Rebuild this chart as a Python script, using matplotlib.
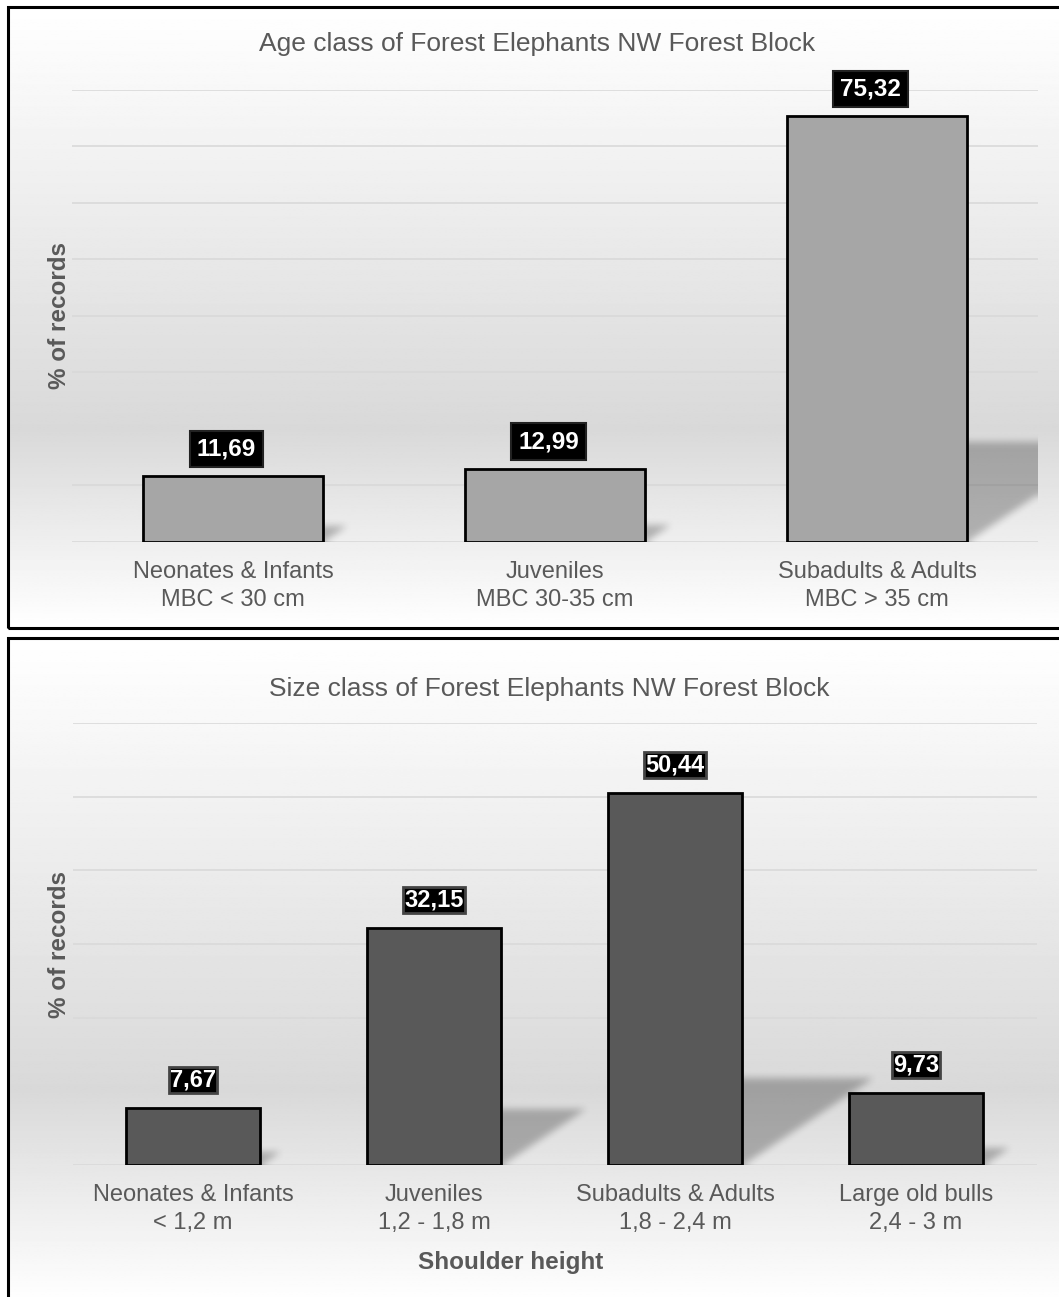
import matplotlib
matplotlib.use("Agg")
import matplotlib.pyplot as plt
import numpy as np
from matplotlib.patches import Rectangle

plt.rcParams['font.family'] = ['Liberation Sans', 'DejaVu Sans']

# ---------------- data ----------------
age_title = "Age class of Forest Elephants NW Forest Block"
age_categories = ["Neonates & Infants\nMBC < 30 cm", "Juveniles\nMBC 30-35 cm", "Subadults & Adults\nMBC > 35 cm"]
age_values = [11.69, 12.99, 75.32]
age_ymax = 80

size_title = "Size class of Forest Elephants NW Forest Block"
size_categories = ["Neonates & Infants\n< 1,2 m", "Juveniles\n1,2 - 1,8 m", "Subadults & Adults\n1,8 - 2,4 m", "Large old bulls\n2,4 - 3 m"]
size_values = [7.67, 32.15, 50.44, 9.73]
size_ymax = 60

y_label = "% of records"
x_label_bottom = "Shoulder height"

# ---------------- figure ----------------
W, H = 1059, 1297
fig = plt.figure(figsize=(W / 100, H / 100), dpi=100)
fig.patch.set_facecolor('white')

TEXT = '#595959'
GRID = '#d9d9d9'


def fx(px):
    return px / W


def fy(py):
    return 1 - py / H


def panel_background(top_px, bottom_px):
    x0, x1 = 8, W + 10
    bg = fig.add_axes([fx(x0), fy(bottom_px), fx(x1 - x0), (bottom_px - top_px) / H], zorder=0)
    t = np.linspace(0, 1, 400)
    g = np.interp(t, [0, 0.68, 1.0], [1.0, 0.85, 1.0])
    img = np.repeat(g[:, None], 2, axis=1)
    bg.imshow(img, cmap='gray', vmin=0, vmax=1, aspect='auto', extent=[0, 1, 0, 1], origin='upper')
    bg.set_axis_off()
    fig.patches.append(Rectangle((fx(x0), fy(bottom_px)), fx(x1 - x0), (bottom_px - top_px) / H,
                                 transform=fig.transFigure, fill=False, edgecolor='black',
                                 linewidth=2.2, zorder=5))


def fmt(v):
    return f"{v:.2f}".replace('.', ',')


def box_blur(a, r, axis):
    pad = [(0, 0), (0, 0)]
    pad[axis] = (r + 1, r)
    c = np.cumsum(np.pad(a, pad, mode='edge'), axis=axis)
    n = a.shape[axis]
    hi = np.take(c, np.arange(2 * r + 1, 2 * r + 1 + n), axis=axis)
    lo = np.take(c, np.arange(0, n), axis=axis)
    return (hi - lo) / (2 * r + 1)


def shadow_layer(ax, xs, vals, width, wpx, hpx, n, ymax):
    ppx = wpx / n
    ppy = hpx / ymax
    cols = np.arange(wpx)[None, :] + 0.5
    ys = (hpx - np.arange(hpx) - 0.5)[:, None]
    alpha = np.zeros((hpx, wpx))
    for x, v in zip(xs, vals):
        xr = (x + width / 2 + 0.5) * ppx
        sh = 0.235 * v * ppy
        sw = 1.5 * sh
        m = (cols >= xr - 8) & (ys <= sh) & (ys >= (cols - xr) * sh / sw)
        alpha = np.maximum(alpha, m.astype(float))
    for _ in range(3):
        alpha = box_blur(alpha, 3, 0)
        alpha = box_blur(alpha, 3, 1)
    rgba = np.zeros((hpx, wpx, 4))
    rgba[..., 3] = alpha * 0.26
    ax.imshow(rgba, extent=(-0.5, n - 0.5, 0, ymax), aspect='auto', origin='upper',
              interpolation='bilinear', zorder=1.5)


def draw_chart(rect_px, cats, vals, ymax, color, title, title_pad, title_x, label_style):
    l, t, r, b = rect_px
    ax = fig.add_axes([fx(l), fy(b), fx(r - l), (b - t) / H], zorder=2)
    ax.patch.set_visible(False)
    n = len(cats)
    xs = np.arange(n)
    width = 0.56

    shadow_layer(ax, xs, vals, width, int(round(r - l)), int(round(b - t)), n, ymax)

    ax.set_xlim(-0.5, n - 0.5)
    ax.set_ylim(0, ymax)
    ax.set_yticks(np.arange(0, ymax + 1, 10))
    ax.yaxis.grid(True, color=GRID, linewidth=1.2)
    ax.set_axisbelow(True)
    for s in ax.spines.values():
        s.set_visible(False)
    ax.tick_params(axis='y', length=0, labelleft=False)
    ax.tick_params(axis='x', length=0, pad=14, labelsize=17, labelcolor=TEXT)
    ax.set_xticks(xs)
    ax.set_xticklabels(cats, linespacing=1.3)

    ax.bar(xs, vals, width=width, color=color, edgecolor='black', linewidth=2, zorder=3)
    for x, v in zip(xs, vals):
        if label_style == 'box':
            ax.annotate(fmt(v), (x - 0.02, v), xytext=(0, 11), textcoords='offset points',
                        ha='center', va='bottom', fontsize=17.5, fontweight='bold', color='white',
                        bbox=dict(boxstyle='square,pad=0.28', facecolor='black', edgecolor='#222222', linewidth=1.5),
                        zorder=6)
        else:
            ax.annotate(fmt(v), (x, v), xytext=(0, 12), textcoords='offset points',
                        ha='center', va='bottom', fontsize=17, fontweight='bold', color='white',
                        bbox=dict(boxstyle='square,pad=0.06', facecolor='black', edgecolor='#444444', linewidth=2),
                        zorder=6)
    ax.set_title(title, fontsize=19, color=TEXT, pad=title_pad, x=title_x)
    ax.set_ylabel(y_label, fontsize=17.5, fontweight='bold', color=TEXT, labelpad=1)
    return ax


panel_background(7, 628)
panel_background(638, H + 6)

ax1 = draw_chart((72, 89.5, 1038, 542), age_categories, age_values, age_ymax, '#a6a6a6',
                 age_title, 28, (537 - 72) / 966, 'box')
ax2 = draw_chart((72.5, 723, 1036.5, 1165), size_categories, size_values, size_ymax, '#595959',
                 size_title, 19.5, (549 - 72.5) / 964, 'tight')
ax2.set_xlabel(x_label_bottom, fontsize=17.5, fontweight='bold', color=TEXT)
ax2.xaxis.set_label_coords((511 - 72.5) / (1036.5 - 72.5), -0.195)

fig.savefig('out.png', dpi=100, facecolor='white')
